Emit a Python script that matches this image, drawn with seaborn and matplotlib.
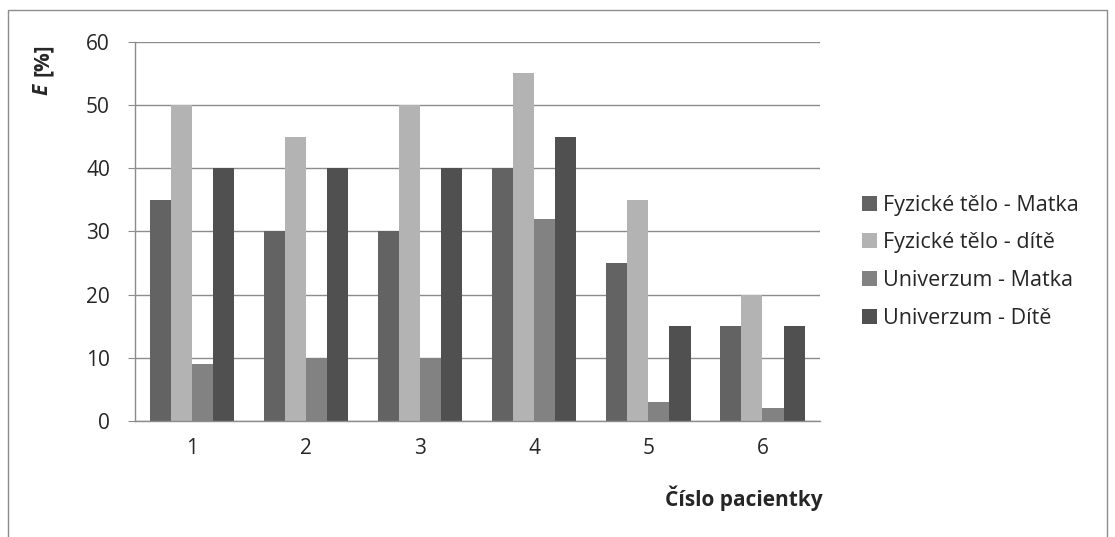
import matplotlib
matplotlib.use("Agg")
import matplotlib.pyplot as plt
from matplotlib.patches import Rectangle
import seaborn as sns
import pandas as pd

patients = ["1", "2", "3", "4", "5", "6"]
series = ["Fyzické tělo - Matka", "Fyzické tělo - dítě", "Univerzum - Matka", "Univerzum - Dítě"]
fyz_matka = [35, 30, 30, 40, 25, 15]
fyz_dite = [50, 45, 50, 55, 35, 20]
univ_matka = [9, 10, 10, 32, 3, 2]
univ_dite = [40, 40, 40, 45, 15, 15]
colors = ["#636363", "#b3b3b3", "#828282", "#505050"]

rows = []
for name, vals in zip(series, [fyz_matka, fyz_dite, univ_matka, univ_dite]):
    for p, v in zip(patients, vals):
        rows.append({"Pacientka": p, "Série": name, "E": v})
df = pd.DataFrame(rows)

sns.set_style("white")
plt.rcParams["font.family"] = ["Open Sans", "DejaVu Sans"]
FS = 15

fig = plt.figure(figsize=(11.15, 5.37), dpi=100)
ax = fig.add_axes([0.121, 0.216, 0.614, 0.706])

sns.barplot(data=df, x="Pacientka", y="E", hue="Série", order=patients,
            hue_order=series, palette=colors, width=0.74, gap=0,
            edgecolor="none", linewidth=0, ax=ax, legend=True)

ax.set_ylim(0, 60)
ax.set_yticks(range(0, 61, 10))
ax.set_xlim(-0.5, 5.5)
ax.yaxis.grid(True, color="#8c8c8c", linewidth=1)
ax.set_axisbelow(True)
for s in ["top", "right"]:
    ax.spines[s].set_visible(False)
for s in ["left", "bottom"]:
    ax.spines[s].set_color("#8c8c8c")
    ax.spines[s].set_linewidth(1)
ax.tick_params(axis="y", which="both", left=True, length=5, color="#8c8c8c",
               labelsize=FS, pad=13)
ax.tick_params(axis="x", bottom=False, labelsize=FS, pad=9)
ax.set_xlabel("")
ax.set_ylabel("")

# axis titles
fig.text(0.738, 0.073, "Číslo pacientky", ha="right", va="center",
         fontsize=FS, fontweight="bold")
fig.text(0.038, 0.833, "E", rotation=90, ha="center", va="center",
         fontsize=FS, fontweight="bold", fontstyle="italic")
fig.text(0.038, 0.888, "[%]", rotation=90, ha="center", va="center",
         fontsize=FS, fontweight="bold")

handles, labels = ax.get_legend_handles_labels()
ax.legend(handles, labels, loc="center left", bbox_to_anchor=(1.062, 0.42),
          frameon=False, fontsize=15.5, handlelength=0.7, handleheight=0.7,
          handletextpad=0.3, labelspacing=0.78, borderpad=0, borderaxespad=0)

# outer chart border
fig.patches.append(Rectangle((0.007, -0.05), 0.986, 1.032, transform=fig.transFigure,
                             fill=False, edgecolor="#8c8c8c", linewidth=1))

fig.savefig("out.png", dpi=100)
